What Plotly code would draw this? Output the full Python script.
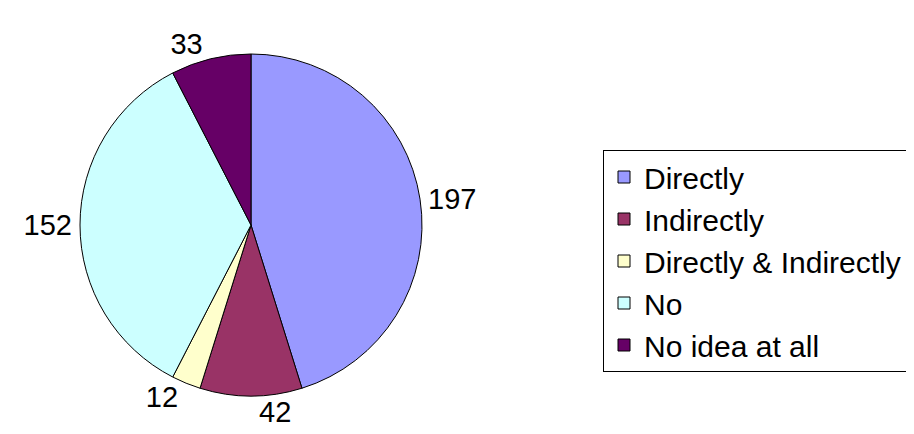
import plotly.graph_objects as go

labels = ["Directly", "Indirectly", "Directly & Indirectly", "No", "No idea at all"]
values = [197, 42, 12, 152, 33]
colors = ["#9999FF", "#993366", "#FFFFCC", "#CCFFFF", "#660066"]

W, H = 914, 434
FONT = "Liberation Sans, Arial, sans-serif"

fig = go.Figure(
    go.Pie(
        labels=labels,
        values=values,
        sort=False,
        direction="clockwise",
        rotation=0,
        marker=dict(colors=colors, line=dict(color="#000000", width=1)),
        textinfo="value",
        textposition="outside",
        outsidetextfont=dict(family=FONT, size=29, color="#000000"),
        domain=dict(x=[70 / W, 416 / W], y=[1 - 388 / H, 1 - 46 / H]),
        hoverinfo="label+value",
    )
)

fig.update_layout(
    width=W,
    height=H,
    margin=dict(l=0, r=0, t=0, b=0),
    paper_bgcolor="#FFFFFF",
    plot_bgcolor="#FFFFFF",
    showlegend=True,
    legend=dict(
        x=595 / W,
        y=1 - 142 / H,
        xanchor="left",
        yanchor="top",
        bordercolor="#000000",
        borderwidth=1,
        bgcolor="#FFFFFF",
        font=dict(family=FONT, size=30, color="#000000"),
    ),
)

fig.write_html("out.html")
